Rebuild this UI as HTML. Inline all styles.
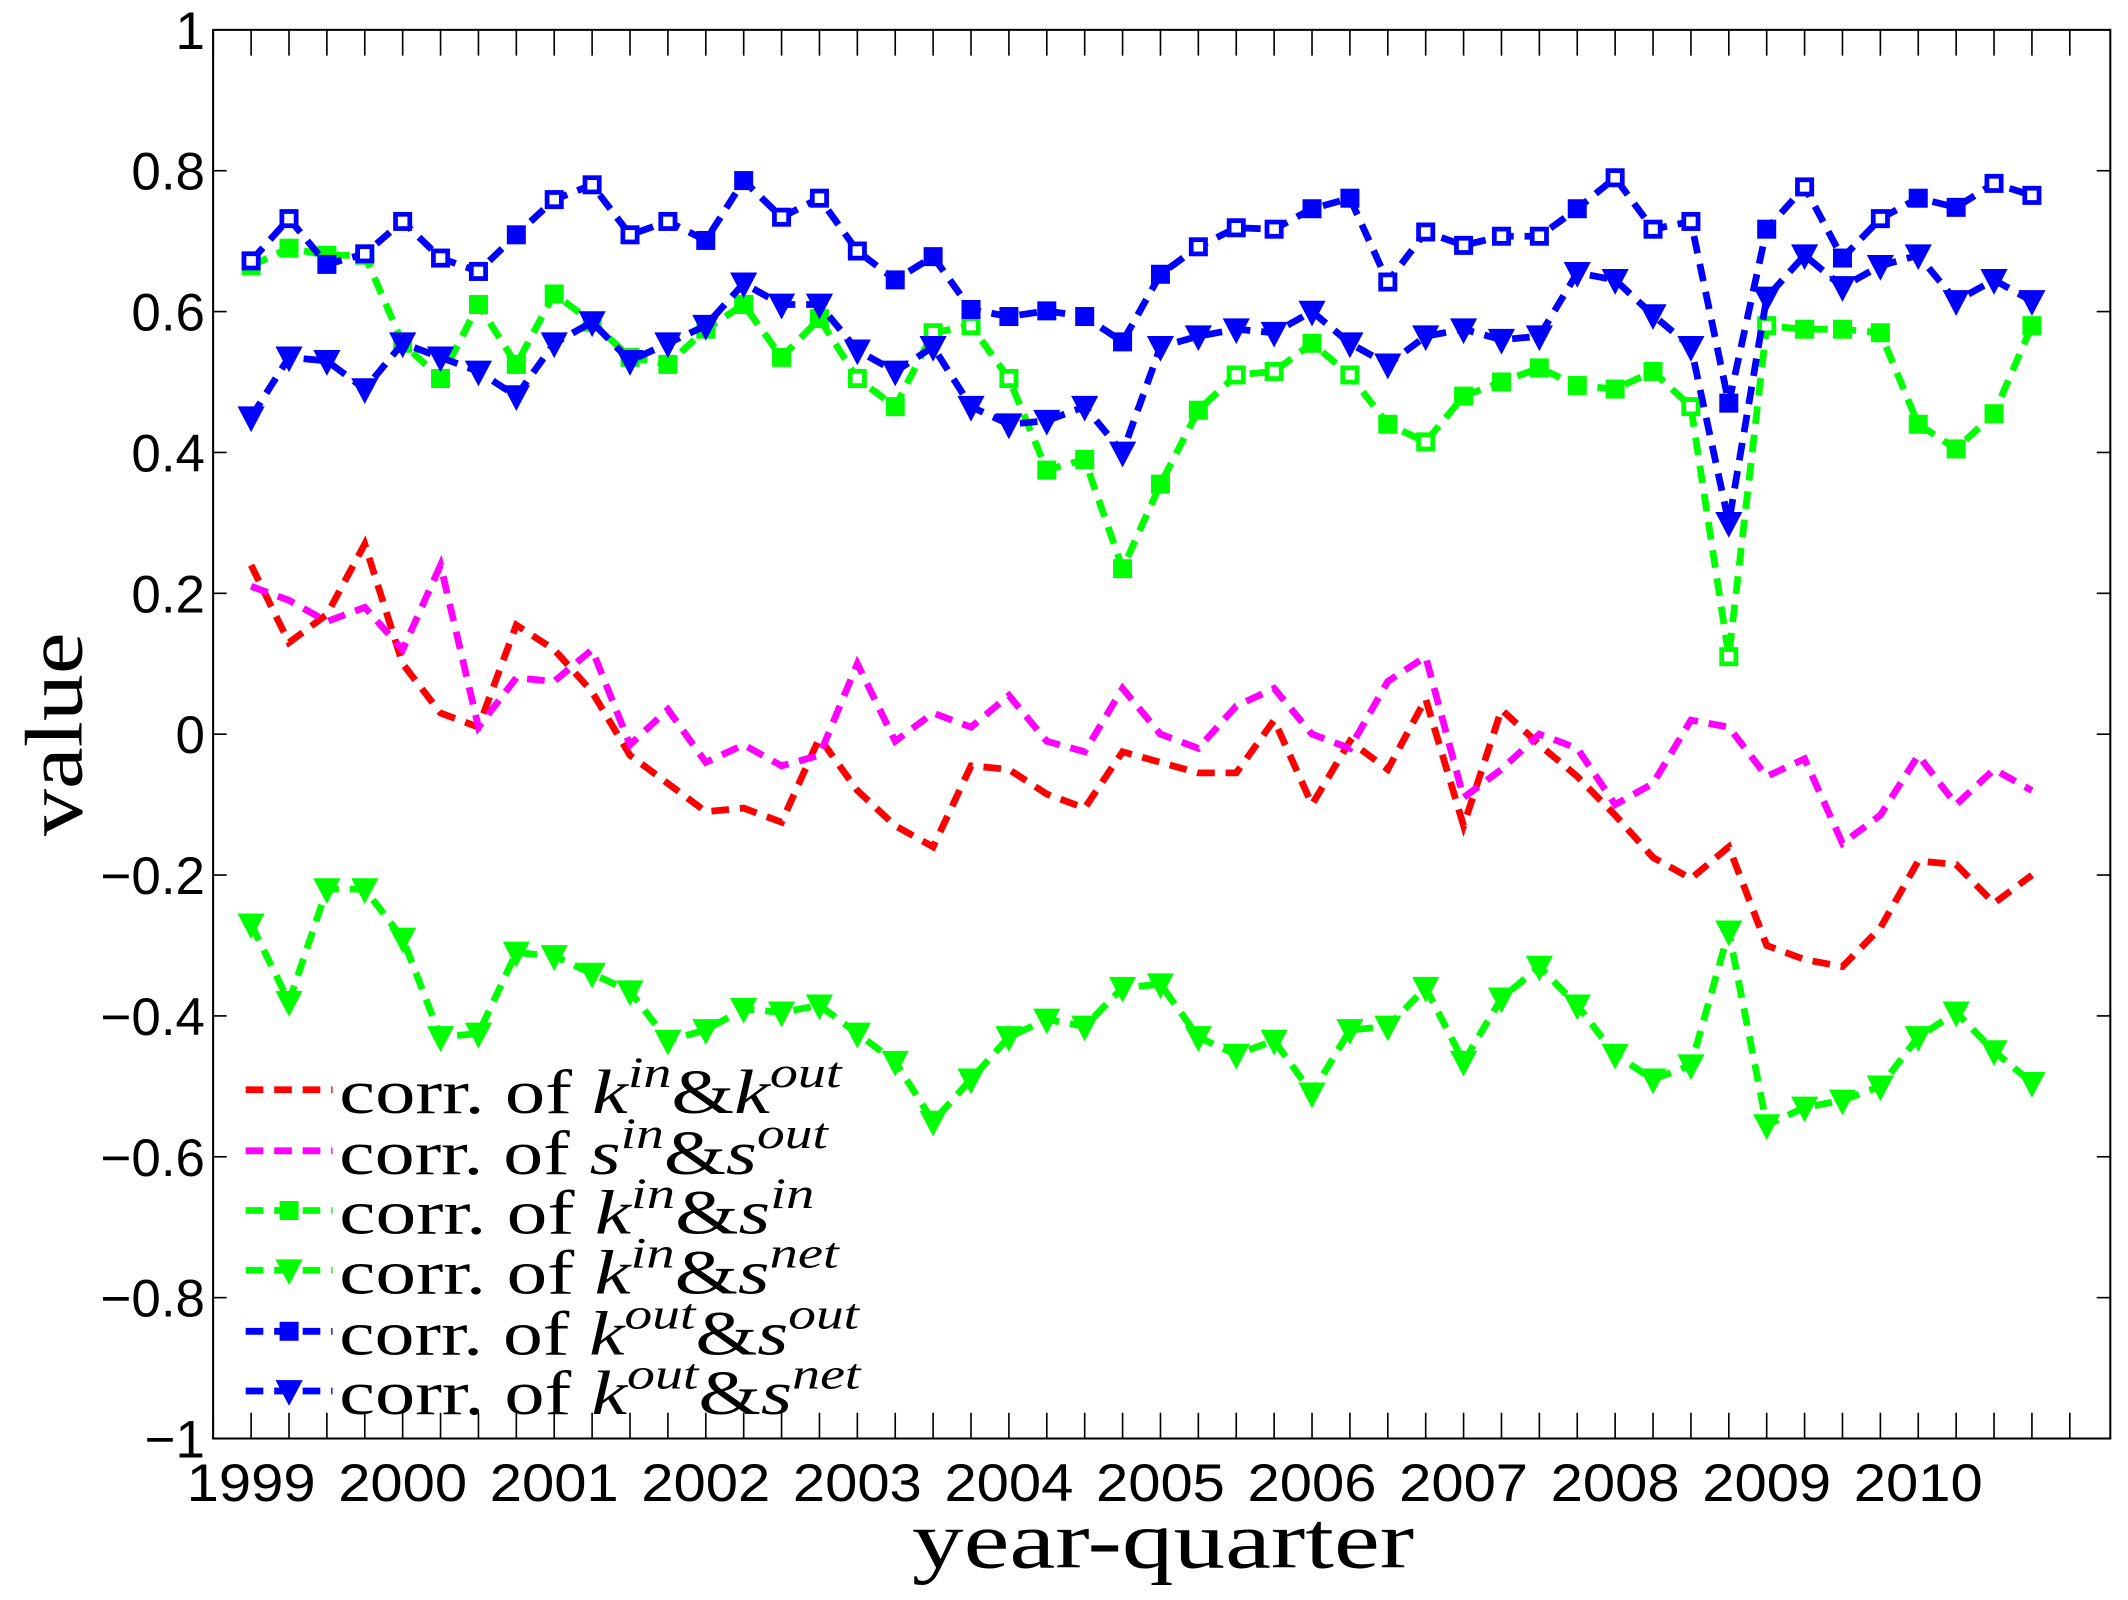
<!DOCTYPE html>
<html><head><meta charset="utf-8"><style>
html,body{margin:0;padding:0;background:#fff}
svg{display:block}
text{fill:#000}
</style></head><body>
<svg id="chart" width="2128" height="1600" viewBox="0 0 1568 1179" xmlns="http://www.w3.org/2000/svg">
<rect x="0" y="0" width="1568" height="1179" fill="#fff"/>
<g id="grid"></g>
<g id="series"></g>
<g id="legend"></g>
<text transform="translate(60,541) rotate(-90)" text-anchor="middle" font-family="Liberation Serif, serif" font-size="60" textLength="150" lengthAdjust="spacingAndGlyphs">value</text>
<text x="857" y="1155" text-anchor="middle" font-family="Liberation Serif, serif" font-size="60" textLength="370" lengthAdjust="spacingAndGlyphs">year-quarter</text>
</svg>
<script>
const years=[1999,2000,2001,2002,2003,2004,2005,2006,2007,2008,2009,2010];
const yTicks=[-1,-0.8,-0.6,-0.4,-0.2,0,0.2,0.4,0.6,0.8,1];
const yTickLabels=["\u22121","\u22120.8","\u22120.6","\u22120.4","\u22120.2","0","0.2","0.4","0.6","0.8","1"];
const redKinKout=[0.24,0.13,0.17,0.27,0.10,0.03,0.01,0.155,0.12,0.06,-0.03,-0.07,-0.11,-0.105,-0.125,-0.005,-0.08,-0.13,-0.16,-0.045,-0.05,-0.085,-0.105,-0.025,-0.04,-0.055,-0.055,0.02,-0.10,-0.01,-0.05,0.05,-0.13,0.035,-0.015,-0.06,-0.115,-0.175,-0.205,-0.16,-0.3,-0.32,-0.33,-0.275,-0.18,-0.185,-0.24,-0.2];
const magSinSout=[0.21,0.19,0.16,0.18,0.12,0.24,0.01,0.08,0.075,0.12,-0.015,0.035,-0.04,-0.015,-0.045,-0.03,0.10,-0.01,0.03,0.01,0.055,-0.01,-0.025,0.065,0.0,-0.02,0.04,0.065,0.0,-0.02,0.075,0.11,-0.09,-0.05,0.0,-0.02,-0.10,-0.07,0.02,0.01,-0.06,-0.035,-0.155,-0.115,-0.03,-0.10,-0.05,-0.08];
const greenKinSin=[0.665,0.69,0.68,0.68,0.555,0.505,0.61,0.525,0.625,0.585,0.535,0.525,0.575,0.61,0.535,0.59,0.505,0.465,0.57,0.58,0.505,0.375,0.39,0.235,0.355,0.46,0.51,0.515,0.555,0.51,0.44,0.415,0.48,0.50,0.52,0.495,0.49,0.515,0.465,0.11,0.58,0.575,0.575,0.57,0.44,0.405,0.455,0.58];
const greenKinSinHollow=[0,0,0,0,0,0,0,0,0,0,0,0,0,0,0,0,1,0,1,1,1,0,0,0,0,0,1,1,0,1,0,1,0,0,0,0,0,0,1,1,1,0,0,0,0,0,0,0];
const greenKinSnet=[-0.27,-0.38,-0.22,-0.22,-0.29,-0.43,-0.425,-0.31,-0.315,-0.34,-0.365,-0.435,-0.42,-0.39,-0.395,-0.385,-0.425,-0.465,-0.55,-0.49,-0.43,-0.405,-0.415,-0.36,-0.355,-0.43,-0.455,-0.435,-0.51,-0.42,-0.415,-0.36,-0.465,-0.375,-0.33,-0.385,-0.455,-0.49,-0.47,-0.28,-0.555,-0.53,-0.52,-0.50,-0.43,-0.395,-0.45,-0.495];
const blueKoutSout=[0.672,0.732,0.667,0.682,0.728,0.676,0.657,0.709,0.759,0.78,0.709,0.728,0.701,0.786,0.734,0.761,0.686,0.645,0.678,0.603,0.593,0.601,0.593,0.557,0.653,0.692,0.719,0.717,0.746,0.761,0.642,0.713,0.694,0.707,0.707,0.746,0.79,0.717,0.728,0.47,0.717,0.777,0.676,0.732,0.761,0.748,0.782,0.765];
const blueKoutSoutHollow=[1,1,0,1,1,1,1,0,1,1,1,1,0,0,1,1,1,0,0,0,0,0,0,0,0,1,1,1,0,0,1,1,1,1,1,0,1,1,1,0,0,1,0,1,0,0,1,1];
const blueKoutSnet=[0.45,0.535,0.53,0.49,0.555,0.535,0.515,0.48,0.555,0.585,0.53,0.555,0.58,0.64,0.61,0.61,0.545,0.515,0.55,0.465,0.44,0.445,0.465,0.40,0.55,0.565,0.575,0.57,0.60,0.555,0.525,0.565,0.575,0.56,0.565,0.655,0.645,0.595,0.55,0.30,0.62,0.68,0.635,0.665,0.68,0.615,0.645,0.615];

const L=157,R=1555,T=22,B=1060;
const X0=185,QW=27.92;
function xq(i){return X0+QW*i;}
function yv(v){return T+(1-v)/2*(B-T);}
const NS="http://www.w3.org/2000/svg";
function mk(tag,attrs,parent){const e=document.createElementNS(NS,tag);for(const k in attrs)e.setAttribute(k,attrs[k]);parent.appendChild(e);return e;}
const grid=document.getElementById('grid');
const axes=mk('rect',{x:L,y:T,width:R-L,height:B-T,fill:'none',stroke:'#000','stroke-width':1.5},grid);


yTicks.forEach((v,i)=>{
  const y=yv(v);
  mk('line',{x1:L,x2:L+10,y1:y,y2:y,stroke:'#000','stroke-width':1.2},grid);
  mk('line',{x1:R,x2:R-10,y1:y,y2:y,stroke:'#000','stroke-width':1.2},grid);
  const t=mk('text',{x:L-6,y:y+14,'text-anchor':'end','font-family':'Liberation Sans, sans-serif','font-size':39},grid);
  t.textContent=yTickLabels[i];
  
  
});
for(let i=-1;i<49;i++){
  const x=xq(i);if(x<L||x>R)continue;
  mk('line',{x1:x,x2:x,y1:B,y2:B-19,stroke:'#000','stroke-width':1.2},grid);
  mk('line',{x1:x,x2:x,y1:T,y2:T+19,stroke:'#000','stroke-width':1.2},grid);
}
years.forEach((yr,j)=>{
  const t=mk('text',{x:xq(j*4),y:B+46,'text-anchor':'middle','font-family':'Liberation Sans, sans-serif','font-size':39,'textLength':95,'lengthAdjust':'spacingAndGlyphs'},grid);
  t.textContent=yr;
  
  
});
const seriesG=document.getElementById('series');
function marker(type,x,y,color,hollow,parent){
  let m;
  if(type==='sq'){
    m=mk('rect',{x:x-7,y:y-7,width:14,height:14,fill:color},parent);
    if(hollow) mk('rect',{x:x-3.5,y:y-3.5,width:7,height:7,fill:'#fff'},parent);
  } else {
    m=mk('path',{d:`M${x-10},${y-8}L${x+10},${y-8}L${x},${y+11}Z`,fill:color},parent);
    if(hollow) mk('path',{d:`M${x-4},${y-4}L${x+4},${y-4}L${x},${y+4}Z`,fill:'#fff'},parent);
  }
  return m;
}
function drawSeries(vals,color,type,hollow,name){
  const g=mk('g',{},seriesG);
  
  
  const pts=vals.map((v,i)=>xq(i)+','+yv(v)).join(' ');
  mk('polyline',{points:pts,fill:'none',stroke:color,'stroke-width':5,'stroke-dasharray':'13 8'},g);
  if(type){vals.forEach((v,i)=>{
    const m=marker(type,xq(i),yv(v),color,hollow?hollow[i]:0,g);
    
    
  });}
}
drawSeries(redKinKout,'#ff0000',null,null,'series-kin-kout');
drawSeries(magSinSout,'#ff00ff',null,null,'series-sin-sout');
drawSeries(greenKinSin,'#00ff00','sq',greenKinSinHollow,'series-kin-sin');
drawSeries(greenKinSnet,'#00ff00','tri',null,'series-kin-snet');
drawSeries(blueKoutSout,'#0000ff','sq',blueKoutSoutHollow,'series-kout-sout');
drawSeries(blueKoutSnet,'#0000ff','tri',null,'series-kout-snet');

const legend=document.getElementById('legend');
const legItems=[
 ['#ff0000',null,'k','in','k','out',370],
 ['#ff00ff',null,'s','in','s','out',360],
 ['#00ff00','sq','k','in','s','in',350],
 ['#00ff00','tri','k','in','s','net',368],
 ['#0000ff','sq','k','out','s','out',383],
 ['#0000ff','tri','k','out','s','net',384]];
const legY=[803,848,892,936,981,1025];
legItems.forEach((it,i)=>{
  const g=mk('g',{},legend);
  
  
  const y=legY[i];
  mk('line',{x1:181,x2:245,y1:y,y2:y,stroke:it[0],'stroke-width':5,'stroke-dasharray':'13 8'},g);
  if(it[1]) marker(it[1],213,y,it[0],0,g);
  const t=mk('text',{x:250,y:y+17,'font-family':'Liberation Serif, serif','font-size':46,'textLength':it[6],'lengthAdjust':'spacingAndGlyphs'},g);
  t.innerHTML=`corr. of <tspan font-style="italic">${it[2]}</tspan><tspan font-size="32" font-style="italic" dy="-19">${it[3]}</tspan><tspan dy="19">&amp;</tspan><tspan font-style="italic">${it[4]}</tspan><tspan font-size="32" font-style="italic" dy="-19">${it[5]}</tspan>`;
});
</script>
</body></html>
